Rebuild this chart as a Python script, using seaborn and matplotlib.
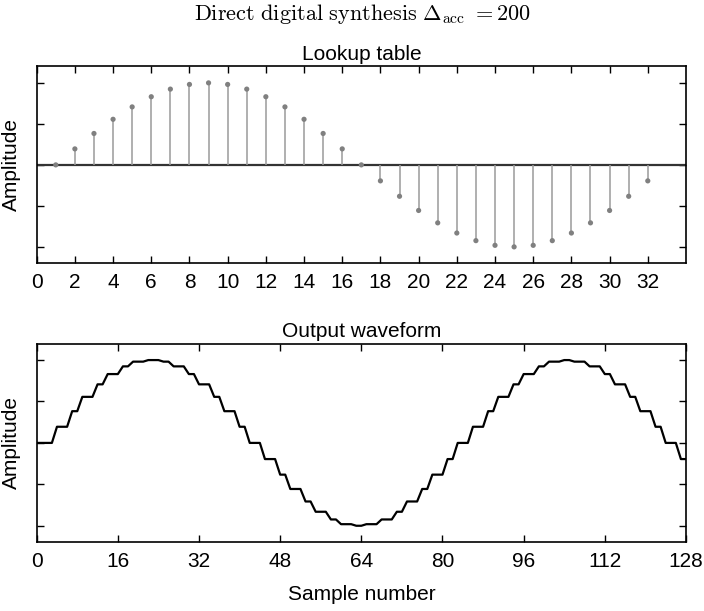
import matplotlib
matplotlib.use('Agg')
import matplotlib.pyplot as plt
import pandas as pd
import seaborn as sns

# 32 entry sine lookup table (entries 1..32)
table_pos = list(range(1, 33))
table_val = [0.0, 0.195, 0.383, 0.556, 0.707, 0.831, 0.924, 0.981,
             1.0, 0.981, 0.924, 0.831, 0.707, 0.556, 0.383, 0.195,
             0.0, -0.195, -0.383, -0.556, -0.707, -0.831, -0.924, -0.981,
             -1.0, -0.981, -0.924, -0.831, -0.707, -0.556, -0.383, -0.195]

# table index read out at each output sample 0..128
out_idx = [0, 0, 0, 0, 1, 1, 1, 2, 2, 3, 3, 3, 4, 4, 5, 5, 5, 6, 6, 7, 7, 7,
           8, 8, 8, 9, 9, 10, 10, 10, 11, 11, 12, 12, 12, 13, 13, 14, 14, 14,
           15, 15, 16, 16, 16, 17, 17, 17, 18, 18, 19, 19, 19, 20, 20, 21, 21, 21,
           22, 22, 23, 23, 23, 24, 24, 25, 25, 25, 26, 26, 26, 27, 27, 28, 28, 28,
           29, 29, 30, 30, 30, 31, 31, 0, 0, 0, 1, 1, 1, 2, 2, 3, 3, 3, 4, 4,
           5, 5, 5, 6, 6, 7, 7, 7, 8, 8, 9, 9, 9, 10, 10, 10, 11, 11, 12, 12, 12,
           13, 13, 14, 14, 14, 15, 15, 16, 16, 16, 17, 17]

top_ticks = list(range(0, 33, 2))
bottom_ticks = list(range(0, 129, 16))
amp_ticks = [-1, -0.5, 0, 0.5, 1]

lut = pd.DataFrame({'entry': table_pos, 'amp': table_val})
wave = pd.DataFrame({'sample': range(len(out_idx)),
                     'amp': [table_val[i] for i in out_idx]})

sns.set_style('ticks', {'text.color': 'black', 'axes.labelcolor': 'black',
                        'xtick.color': 'black', 'ytick.color': 'black'})
plt.rcParams['font.family'] = ['Liberation Sans', 'DejaVu Sans']
plt.rcParams['mathtext.fontset'] = 'cm'

fs = 15
fig = plt.figure(figsize=(7.04, 6.11), dpi=100)
ax1 = fig.add_axes([0.0521, 0.5691, 0.9223, 0.3221])
ax2 = fig.add_axes([0.0521, 0.1124, 0.9223, 0.3254])

# lookup table as stems
ax1.axhline(0, color='#333333', lw=1.6, zorder=1)
ax1.vlines(lut['entry'], 0, lut['amp'], color='#9a9a9a', lw=1.1, zorder=2)
sns.scatterplot(data=lut, x='entry', y='amp', ax=ax1, color='#808080',
                s=14, edgecolor='none', zorder=3)
ax1.set_xlim(0, 34)
ax1.set_xticks(top_ticks)
ax1.set_title('Lookup table', fontsize=fs, pad=5)

# output waveform
sns.lineplot(data=wave, x='sample', y='amp', ax=ax2, color='black', lw=1.6)
ax2.set_xlim(0, 128)
ax2.set_xticks(bottom_ticks)
ax2.set_title('Output waveform', fontsize=fs, pad=5)
ax2.set_xlabel('Sample number', fontsize=fs, labelpad=10)

for ax in (ax1, ax2):
    ax.set_ylim(-1.2, 1.2)
    ax.set_yticks(amp_ticks)
    ax.set_yticklabels([])
    ax.set_ylabel('Amplitude', fontsize=fs, labelpad=4)
    ax.tick_params(direction='in', top=True, right=True, length=5, width=1,
                   labelsize=fs, pad=7, color='black', labelcolor='black')
    for s in ax.spines.values():
        s.set_color('black')
        s.set_linewidth(1.2)
ax1.set_xlabel('')

fig.suptitle(r'$\mathrm{Direct\ digital\ synthesis}\ \Delta_{\mathrm{acc}}\ =200$',
             x=0.515, y=0.997, fontsize=16, color='black')

fig.savefig('out.png', dpi=100)
